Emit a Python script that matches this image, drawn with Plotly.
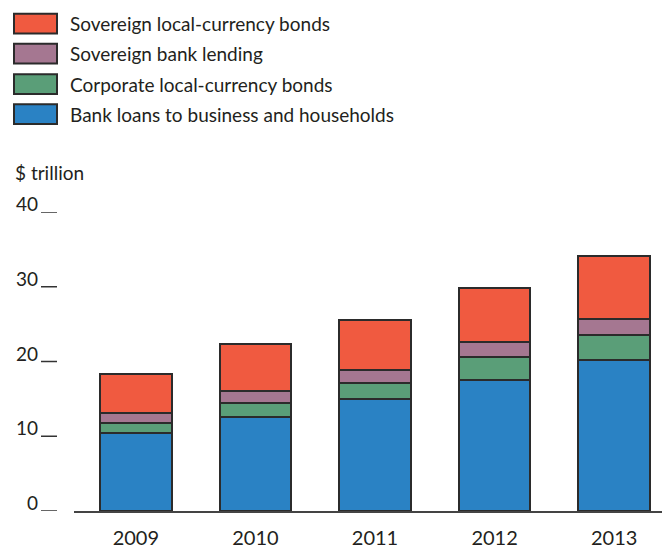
import plotly.graph_objects as go

years = ["2009", "2010", "2011", "2012", "2013"]
bank_loans = [10.5, 12.6, 15.0, 17.5, 20.2]
corp_bonds = [1.25, 1.9, 2.1, 3.1, 3.3]
sov_lending = [1.35, 1.5, 1.7, 2.0, 2.2]
sov_bonds = [5.2, 6.4, 6.7, 7.3, 8.4]

series_names = [
    "Sovereign local-currency bonds",
    "Sovereign bank lending",
    "Corporate local-currency bonds",
    "Bank loans to business and households",
]
series_values = [sov_bonds, sov_lending, corp_bonds, bank_loans]
colors = ["#F05A40", "#A57791", "#5A9E78", "#2A82C4"]
y_ticks = [0, 10, 20, 30, 40]
y_title = "$ trillion"

W, H = 665, 552
L, R, T, B = 74, 3, 212, 36
PW = W - L - R
PH = H - T - B
FONT = "Lato"
TXT = "#231F20"


def px(x):
    return (x - L) / PW


def py(y):
    return (H - B - y) / PH


fig = go.Figure()
# stack from bottom: bank loans, corp bonds, sov lending, sov bonds
for name, vals, col in reversed(list(zip(series_names, series_values, colors))):
    fig.add_trace(go.Bar(
        x=list(range(len(years))), y=vals, name=name,
        marker=dict(color=col, line=dict(color="#2b2b2b", width=2)),
        showlegend=False,
    ))

shapes = []
annotations = []

# legend (manual)
row_centers = [20.5, 51, 82, 112.5]
for name, col, yc in zip(series_names, colors, row_centers):
    shapes.append(dict(type="rect", xref="paper", yref="paper",
                       x0=px(14), x1=px(57), y0=py(yc - 10), y1=py(yc + 10),
                       fillcolor=col, line=dict(color="#2b2b2b", width=2)))
    annotations.append(dict(xref="paper", yref="paper", x=px(68), y=py(yc),
                            text=name, showarrow=False, xanchor="left", yanchor="middle",
                            font=dict(family=FONT, size=19, color=TXT)))

annotations.append(dict(xref="paper", yref="paper", x=px(13), y=py(172),
                        text=y_title, showarrow=False, xanchor="left", yanchor="middle",
                        font=dict(family=FONT, size=19, color=TXT)))

# y tick labels with underline marks
for v in y_ticks:
    annotations.append(dict(xref="paper", yref="y", x=px(40), y=v,
                            text=str(v), showarrow=False, xanchor="right", yanchor="bottom",
                            yshift=-5, font=dict(family=FONT, size=19, color=TXT)))
    shapes.append(dict(type="line", xref="paper", yref="y",
                       x0=px(41), x1=px(57), y0=v, y1=v,
                       line=dict(color="#333333", width=1.5)))

fig.update_layout(
    width=W, height=H,
    margin=dict(l=L, r=R, t=T, b=B, pad=0),
    paper_bgcolor="white", plot_bgcolor="white",
    barmode="stack", bargap=0.4,
    shapes=shapes, annotations=annotations,
    xaxis=dict(range=[-0.517, 4.4], tickvals=list(range(len(years))), ticktext=years,
               showgrid=False, zeroline=False, showline=True, linecolor="#444444",
               linewidth=1.5, ticks="", ticklabelstandoff=8,
               tickfont=dict(family=FONT, size=20, color=TXT)),
    yaxis=dict(range=[0, 40], visible=False, showgrid=False, zeroline=False),
)

fig.write_html("out.html")
